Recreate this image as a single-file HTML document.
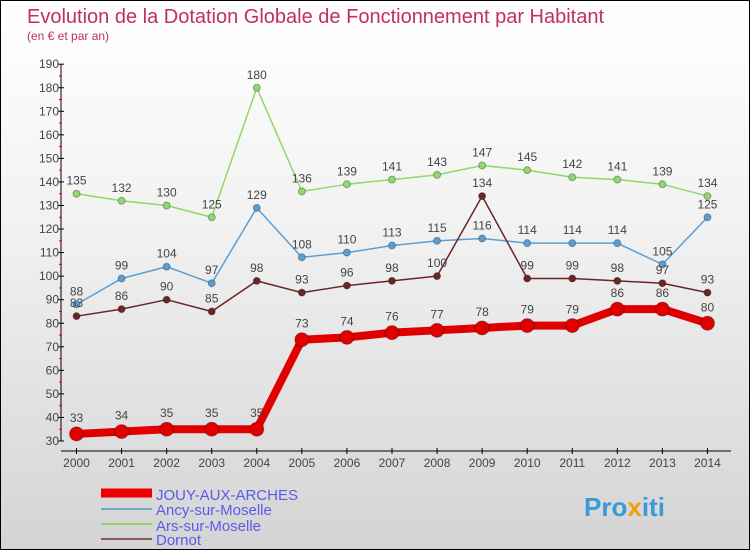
<!DOCTYPE html>
<html><head><meta charset="utf-8"><style>
body{margin:0;width:750px;height:550px;overflow:hidden;font-family:"Liberation Sans",sans-serif}
#wrap{position:relative;width:748px;height:548px;border:1px solid #000;background:linear-gradient(#fff 0%,#f2f2f2 40%,#d4d4d4 100%)}
</style></head><body>
<div id="wrap">
<svg id="chart" width="748" height="548" style="position:absolute;left:0;top:0">
<text x="26" y="22" font-size="20" fill="#c0305a">Evolution de la Dotation Globale de Fonctionnement par Habitant</text>
<text x="26" y="39" font-size="12" fill="#c0305a">(en € et par an)</text>
<g id="axes"></g><g id="series"></g>
<g>
<line x1="100" y1="492" x2="151" y2="492" stroke="#e00" stroke-width="9"/>
<text x="155" y="499" font-size="15" fill="#5a5aee">JOUY-AUX-ARCHES</text>
<line x1="100" y1="508" x2="151" y2="508" stroke="#6fa8cc" stroke-width="2"/>
<text x="155" y="514" font-size="15" fill="#5a5aee">Ancy-sur-Moselle</text>
<line x1="100" y1="523" x2="151" y2="523" stroke="#8fd86a" stroke-width="2"/>
<text x="155" y="530" font-size="15" fill="#5a5aee">Ars-sur-Moselle</text>
<line x1="100" y1="538" x2="151" y2="538" stroke="#8a5a5a" stroke-width="2"/>
<text x="155" y="544" font-size="15" fill="#5a5aee">Dornot</text>
</g>
<text x="583" y="515" font-size="26" font-weight="bold" fill="#3a9ad9">Pro<tspan fill="#f39c12">x</tspan>iti</text>
</svg>
</div>
<script>
const years=[2000,2001,2002,2003,2004,2005,2006,2007,2008,2009,2010,2011,2012,2013,2014];
const jouy=[33,34,35,35,35,73,74,76,77,78,79,79,86,86,80];
const ancy=[88,99,104,97,129,108,110,113,115,116,114,114,114,105,125];
const ars=[135,132,130,125,180,136,139,141,143,147,145,142,141,139,134];
const dornot=[83,86,90,85,98,93,96,98,100,134,99,99,98,97,93];
const yTicks=[30,40,50,60,70,80,90,100,110,120,130,140,150,160,170,180,190];
const NS="http://www.w3.org/2000/svg";
const x=i=>75.5+i*45.07;
const y=v=>440-(v-30)*2.355;
function mk(tag,attrs,parent){const e=document.createElementNS(NS,tag);for(const k in attrs)e.setAttribute(k,attrs[k]);parent.appendChild(e);return e;}
const ax=document.getElementById('axes');
const a1=mk('line',{x1:60,y1:y(190),x2:60,y2:y(30),stroke:'#000'},ax);


const a2=mk('line',{x1:60,y1:450,x2:730,y2:450,stroke:'#000'},ax);


yTicks.forEach(v=>{
 mk('line',{x1:57,y1:y(v),x2:63,y2:y(v),stroke:'#000'},ax);
 if(v<190) mk('line',{x1:58,y1:y(v+5),x2:61,y2:y(v+5),stroke:'#e00'},ax);
 const t=mk('text',{x:58,y:y(v)+4,'font-size':12,'text-anchor':'end',fill:'#444'},ax);
 t.textContent=v;
 
 
});
years.forEach((yr,i)=>{
 mk('line',{x1:x(i),y1:447,x2:x(i),y2:453,stroke:'#000'},ax);
 const t=mk('text',{x:x(i),y:466,'font-size':12,'text-anchor':'middle',fill:'#444'},ax);
 t.textContent=yr;
 
 
});
const sg=document.getElementById('series');
function series(data,color,w,r,name,labelOff){
 const g=mk('g',{},sg);
 
 
 mk('polyline',{points:data.map((v,i)=>x(i)+','+y(v)).join(' '),fill:'none',stroke:color,'stroke-width':w,'stroke-linejoin':'round'},g);
 data.forEach((v,i)=>{
  const c=mk('circle',{cx:x(i),cy:y(v),r:r,fill:color,stroke:'rgba(0,0,0,0.3)','stroke-width':1},g);
  
  
  const t=mk('text',{x:x(i),y:y(v)-labelOff,'font-size':12,'text-anchor':'middle',fill:'#444'},g);
  t.textContent=v;
  
  
 });
}
series(ars,'#8fd86a',1.5,3.5,'series-ars',9);
series(ancy,'#5a9fd4',1.5,3.5,'series-ancy',9);
series(dornot,'#6b2525',1.5,3.5,'series-dornot',9);
series(jouy,'#e00000',8,7,'series-jouy',12);
</script>
</body></html>
